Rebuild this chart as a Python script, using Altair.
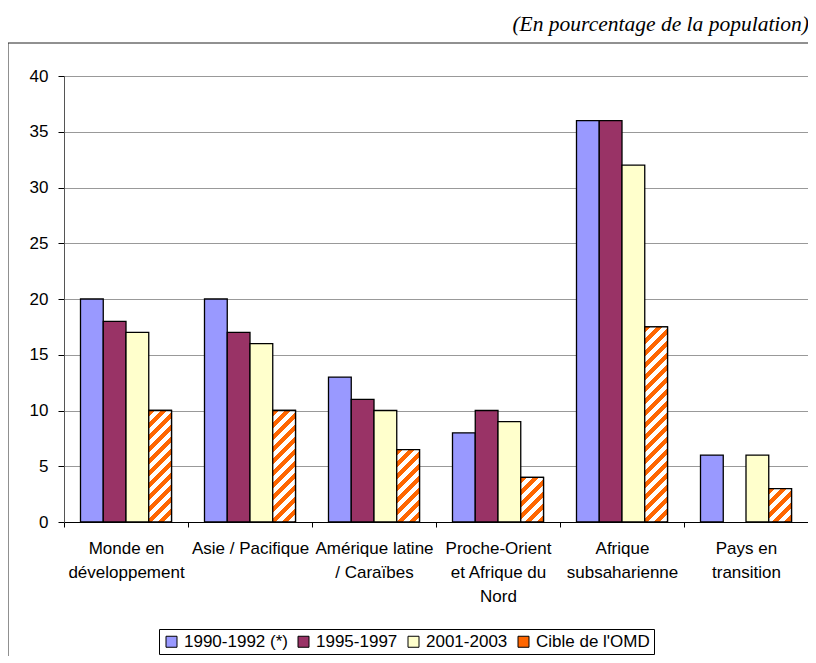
import altair as alt
import pandas as pd

# ---- data ----
regions = ["Monde en|développement", "Asie / Pacifique", "Amérique latine|/ Caraïbes",
           "Proche-Orient|et Afrique du|Nord", "Afrique|subsaharienne", "Pays en|transition"]
series = ["1990-1992 (*)", "1995-1997", "2001-2003", "Cible de l'OMD"]
v1990 = [20, 20, 13, 8, 36, 6]
v1995 = [18, 17, 11, 10, 36, None]
v2001 = [17, 16, 10, 9, 32, 6]
omd = [10, 10, 6.5, 4, 17.5, 3]
colors = ["#9999FF", "#993366", "#FFFFCC", "#FF6600"]
y_ticks = [0, 5, 10, 15, 20, 25, 30, 35, 40]
title_text = "(En pourcentage de la population)"

rows = []
for s, vals in zip(series, [v1990, v1995, v2001, omd]):
    for r, v in zip(regions, vals):
        if v is not None:
            rows.append({"region": r, "series": s, "value": v})
df = pd.DataFrame(rows)

W, H = 744, 446
BAND = W / len(regions)
PAD_OUT = 0.725
BAR_W = BAND / (len(series) + 2 * PAD_OUT)
YMAX = 40
PERIOD = 12.0


def hatch(value):
    w = BAR_W
    h = value * H / YMAX
    L = w + h
    k = L / (w * w + h * h)
    stops = []
    a = 0.0
    i = 0
    while a < L:
        b = min(a + PERIOD / 2, L)
        c = "#FF6600" if i % 2 == 0 else "#FFFFFF"
        stops.append({"offset": a / L, "color": c})
        stops.append({"offset": b / L, "color": c})
        a = b
        i += 1
    return {"gradient": "linear", "x1": 0, "y1": 0, "x2": w * k, "y2": h * k, "stops": stops}


x_enc = alt.X("region:N", sort=regions,
              scale=alt.Scale(domain=regions, paddingInner=0, paddingOuter=0),
              axis=alt.Axis(title=None, labelAngle=0, labelExpr="split(datum.label, '|')",
                            labelLineHeight=24, labelFontSize=17, labelColor="#000",
                            tickBand="extent", tickSize=5, tickColor="#000",
                            domainColor="#000", labelPadding=13, grid=False))
xo_enc = alt.XOffset("series:N", sort=series,
                     scale=alt.Scale(domain=series, paddingInner=0, paddingOuter=PAD_OUT))
y_enc = alt.Y("value:Q", scale=alt.Scale(domain=[0, YMAX]),
              axis=alt.Axis(title=None, values=y_ticks, labelFontSize=17, labelColor="#000",
                            tickSize=6, tickColor="#000", domainColor="#555",
                            gridColor="#999", labelPadding=10))

base = alt.Chart(df)

frame = alt.Chart(pd.DataFrame({"k": [0]})).mark_rect(
    fillOpacity=0, stroke="#222", strokeWidth=1
).encode(x=alt.value(-56), x2=alt.value(780), y=alt.value(-33), y2=alt.value(700))

bars = base.mark_bar(stroke="#000", strokeWidth=1.3).encode(
    x=x_enc, xOffset=xo_enc, y=y_enc,
    color=alt.Color("series:N", sort=series,
                    scale=alt.Scale(domain=series, range=colors),
                    legend=alt.Legend(title=None, orient="none", legendX=95, legendY=553,
                                      direction="horizontal", strokeColor="#000",
                                      fillColor="#fff", padding=4, symbolType="square",
                                      symbolSize=121, symbolStrokeColor="#000",
                                      symbolStrokeWidth=1, symbolOpacity=1,
                                      labelFontSize=17, labelColor="#000",
                                      labelOffset=4, columnPadding=7))
)

hatch_layers = []
for r, v in zip(regions, omd):
    hatch_layers.append(
        base.transform_filter(
            (alt.datum.region == r) & (alt.datum.series == series[3])
        ).mark_bar(stroke="#000", strokeWidth=1.3).encode(
            x=alt.X("region:N", sort=regions), xOffset=alt.XOffset("series:N", sort=series),
            y=alt.Y("value:Q"), fill=alt.value(hatch(v))
        )
    )

title = alt.Chart(pd.DataFrame({"t": [title_text]})).mark_text(
    font="Liberation Serif", fontStyle="italic", fontSize=21.5, align="right",
    baseline="alphabetic", color="#000"
).encode(text="t:N", x=alt.value(745), y=alt.value(-45))

chart = alt.layer(frame, bars, *hatch_layers, title).properties(
    width=W, height=H,
    autosize=alt.AutoSizeParams(type="none"),
    padding={"left": 56, "top": 68, "right": 0, "bottom": 134},
).configure(font="Liberation Sans").configure_view(stroke="#a0a0a0")

chart.save("out.html", embed_options={"renderer": "svg", "actions": False})
